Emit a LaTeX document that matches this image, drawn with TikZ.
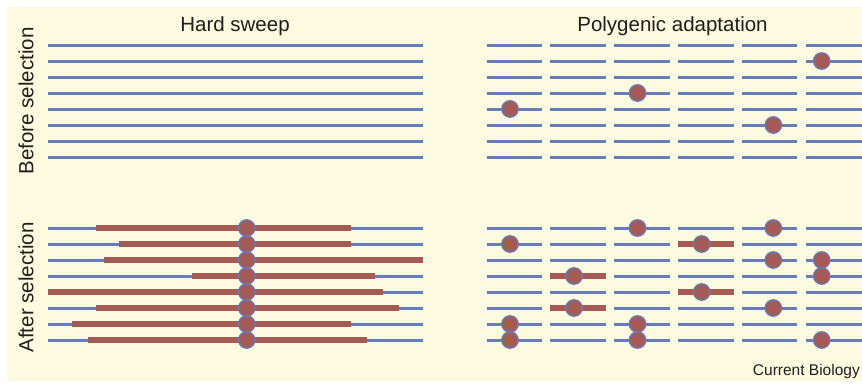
\documentclass[tikz,border=0pt]{standalone}
\usepackage{fontspec}
\setmainfont{Liberation Sans}
\definecolor{bg}{RGB}{253,251,223}
\definecolor{hap}{RGB}{102,125,188}
\definecolor{mut}{RGB}{165,90,85}
\definecolor{ink}{RGB}{30,30,30}
\begin{document}
\begin{tikzpicture}[x=1pt,y=-1pt,
  hapline/.style={hap,line width=3pt},
  mutbar/.style={mut,line width=5.6pt},
  snp/.style={circle,fill=mut,draw=hap,line width=1.3pt,minimum size=16.5pt,inner sep=0pt},
  lbl/.style={font=\fontsize{20.5}{24}\selectfont,text=ink,inner sep=0pt},
  credit/.style={font=\fontsize{15.5}{18}\selectfont,text=ink,inner sep=0pt}]
\useasboundingbox (0,0) rectangle (862,383);
\fill[bg] (7,7) rectangle (862,381);
% titles
\node[lbl,anchor=base] (t1) at (235,31.5) {Hard sweep};
\node[lbl,anchor=base] (t2) at (672.5,31.5) {Polygenic adaptation};
\node[lbl,anchor=base,rotate=90] (s1) at (33.3,101) {Before selection};
\node[lbl,anchor=base,rotate=90] (s2) at (33.3,287.5) {After selection};
\node[credit,anchor=base east] (cb) at (860,375) {Current Biology};
% hard sweep haplotypes
\foreach \r in {0,...,7} {
  \draw[hapline] (48,{45+16*\r}) -- (423,{45+16*\r});
  \draw[hapline] (48,{228+16*\r}) -- (423,{228+16*\r});
}
\foreach \l/\rr [count=\i from 0] in {96/350.7,119.3/350.7,104/423,191.7/375,48/382.7,96/398.7,72/350.7,88/366.7} {
  \draw[mutbar] (\l,{228+16*\i}) -- (\rr,{228+16*\i});
}
\foreach \i in {0,...,7} {
  \node[snp] (hs\i) at (246.7,{228+16*\i}) {};
}
% polygenic haplotypes
\foreach \s/\e in {486.7/542.2,550/605.5,614/669.5,678/733.5,741.7/797.2,805.7/862} {
  \foreach \r in {0,...,7} {
    \draw[hapline] (\s,{45+16*\r}) -- (\e,{45+16*\r});
    \draw[hapline] (\s,{228+16*\r}) -- (\e,{228+16*\r});
  }
}
\draw[mutbar] (550,276) -- (605.5,276);
\draw[mutbar] (550,308) -- (605.5,308);
\draw[mutbar] (678,244) -- (733.5,244);
\draw[mutbar] (678,292) -- (733.5,292);
% before
\node[snp] (b1) at (510,109) {};
\node[snp] (b2) at (637.5,93) {};
\node[snp] (b3) at (773.3,125) {};
\node[snp] (b4) at (821.7,61) {};
% after
\node[snp] (a1) at (510,244) {};
\node[snp] (a2) at (510,324) {};
\node[snp] (a3) at (510,340) {};
\node[snp] (a4) at (574,276) {};
\node[snp] (a5) at (574,308) {};
\node[snp] (a6) at (637.5,228) {};
\node[snp] (a7) at (637.5,324) {};
\node[snp] (a8) at (637.5,340) {};
\node[snp] (a9) at (701.7,244) {};
\node[snp] (a10) at (701.7,292) {};
\node[snp] (a11) at (773.3,228) {};
\node[snp] (a12) at (773.3,260) {};
\node[snp] (a13) at (773.3,308) {};
\node[snp] (a14) at (821.7,260) {};
\node[snp] (a15) at (821.7,276) {};
\node[snp] (a16) at (821.7,340) {};
\end{tikzpicture}
\end{document}
